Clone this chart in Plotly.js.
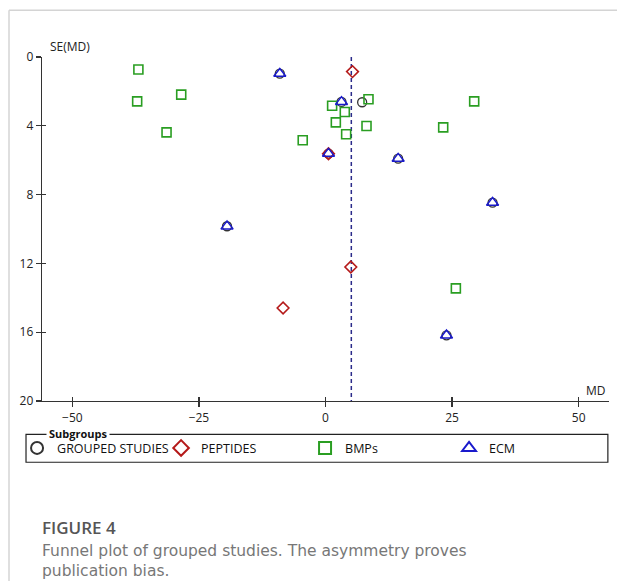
<!DOCTYPE html>
<html>
<head>
<meta charset="utf-8">
<script src="https://cdn.plot.ly/plotly-3.0.1.min.js"></script>
<style>html,body{margin:0;padding:0;background:#fff;}#chart{width:617px;height:581px;}</style>
</head>
<body>
<div id="chart"></div>
<script>
// ---- data ----
const bmpMD = [-36.96, -37.2, -28.5, -31.4, -4.5, 1.31, 3.81, 8.49, 29.37, 2.04, 8.1, 23.25, 4.08, 25.75];
const bmpSE = [0.73, 2.58, 2.19, 4.38, 4.84, 2.83, 3.2, 2.46, 2.58, 3.8, 4.01, 4.09, 4.49, 13.45];
const pepMD = [5.33, 0.59, 5.0, -8.38];
const pepSE = [0.85, 5.62, 12.21, 14.59];
const ecmMD = [-9.03, 3.16, 0.59, 14.35, 33.0, -19.45, 23.9];
const ecmSE = [0.97, 2.61, 5.62, 5.91, 8.47, 9.84, 16.18];
const grpMD = [-9.03, 3.16, 7.24, 0.59, 14.35, 33.0, -19.45, 23.9];
const grpSE = [0.97, 2.61, 2.63, 5.62, 5.91, 8.47, 9.84, 16.18];
const pooledMD = 5.1;
const seRange = [0, 20];
const xTicks = [-50, -25, 0, 25, 50];
const yTicks = [0, 4, 8, 12, 16, 20];
const groupNames = ['GROUPED STUDIES', 'PEPTIDES', 'BMPs', 'ECM'];

const FONT = 'Open Sans, Noto Sans, sans-serif';
const CAPFONT = 'DejaVu Sans, sans-serif';

const traces = [
  {x: [pooledMD, pooledMD], y: seRange, mode: 'lines', showlegend: false, hoverinfo: 'skip',
   line: {color: '#2b2b8a', width: 1.5, dash: '4px,3px'}},
  {x: grpMD, y: grpSE, mode: 'markers', name: groupNames[0],
   marker: {symbol: 'circle-open', size: 9, color: '#333333', line: {width: 1.3}}},
  {x: pepMD, y: pepSE, mode: 'markers', name: groupNames[1],
   marker: {symbol: 'diamond-open', size: 9, color: '#b51a1a', line: {width: 1.6}}},
  {x: bmpMD, y: bmpSE, mode: 'markers', name: groupNames[2],
   marker: {symbol: 'square-open', size: 9, color: '#2a9e22', line: {width: 1.6}}},
  {x: ecmMD, y: ecmSE, mode: 'markers', name: groupNames[3],
   marker: {symbol: 'triangle-up-open', size: 10.5, color: '#1a1acc', line: {width: 1.5}}},
  {x: [0], y: [0], xaxis: 'x2', yaxis: 'y2', mode: 'markers', showlegend: false, hoverinfo: 'skip',
   marker: {opacity: 0}}
];

const axBase = {
  showgrid: false, zeroline: false, showline: true, linecolor: '#333', linewidth: 1.3,
  tickcolor: '#333', tickwidth: 1.3, ticklen: 5,
  tickfont: {family: FONT, size: 12, color: '#222'}
};

const layout = {
  width: 617, height: 581,
  margin: {l: 42, r: 8, t: 57, b: 180},
  paper_bgcolor: '#fff', plot_bgcolor: '#fff',
  font: {family: FONT},
  showlegend: true,
  xaxis: Object.assign({}, axBase, {range: [-56, 56], tickmode: 'array', tickvals: xTicks, ticks: 'outside'}),
  yaxis: Object.assign({}, axBase, {range: [20, 0], tickmode: 'array', tickvals: yTicks, ticks: 'outside'}),
  xaxis2: Object.assign({}, axBase, {range: [-56, 56], tickmode: 'array', tickvals: xTicks, ticks: 'inside',
    showticklabels: false, overlaying: 'x', anchor: 'y', ticklen: 4}),
  yaxis2: Object.assign({}, axBase, {range: [20, 0], tickmode: 'array', tickvals: yTicks, ticks: 'inside',
    showticklabels: false, overlaying: 'y', anchor: 'x', ticklen: 4}),
  legend: {
    orientation: 'h', x: -0.044, xanchor: 'left', y: -0.1375, yanchor: 'middle',
    font: {family: FONT, size: 12.5, color: '#111'},
    itemsizing: 'constant', entrywidth: 99, entrywidthmode: 'pixels',
    bgcolor: 'rgba(0,0,0,0)', borderwidth: 0, itemclick: false
  },
  shapes: [
    // figure frame (light gray)
    {type: 'line', xref: 'paper', yref: 'paper', x0: -0.0582, x1: 1.02, y0: 1.1358, y1: 1.1358,
     line: {color: '#d4d4d4', width: 1.5}},
    {type: 'line', xref: 'paper', yref: 'paper', x0: -0.0582, x1: -0.0582, y0: 1.1358, y1: -0.53,
     line: {color: '#d4d4d4', width: 1.5}},
    // legend box
    {type: 'rect', xref: 'paper', yref: 'paper', x0: -0.0282, x1: 0.998, y0: -0.0968, y1: -0.178,
     line: {color: '#222', width: 1.2}, fillcolor: 'rgba(0,0,0,0)'}
  ],
  annotations: [
    {text: 'SE(MD)', xref: 'paper', yref: 'paper', x: 0.0106, y: 1.0, xanchor: 'left', yanchor: 'bottom',
     showarrow: false, font: {family: FONT, size: 12, color: '#222'}},
    {text: 'MD', xref: 'paper', yref: 'paper', x: 0.998, y: 0.0, xanchor: 'right', yanchor: 'bottom',
     showarrow: false, font: {family: FONT, size: 12, color: '#222'}},
    {text: '<b>Subgroups</b>', xref: 'paper', yref: 'paper', x: 0.007, y: -0.0945, xanchor: 'left', yanchor: 'middle',
     showarrow: false, bgcolor: '#fff', borderpad: 2, font: {family: FONT, size: 11, color: '#111'}},
    {text: 'FIGURE 4', xref: 'paper', yref: 'paper', x: -0.0035, y: -0.367, xanchor: 'left', yanchor: 'middle',
     showarrow: false, font: {family: FONT, size: 17, color: '#555', weight: 600}},
    {text: 'Funnel plot of grouped studies. The asymmetry proves', xref: 'paper', yref: 'paper',
     x: -0.0035, y: -0.435, xanchor: 'left', yanchor: 'middle',
     showarrow: false, font: {family: CAPFONT, size: 15.5, color: '#777'}},
    {text: 'publication bias.', xref: 'paper', yref: 'paper',
     x: -0.0035, y: -0.4955, xanchor: 'left', yanchor: 'middle',
     showarrow: false, font: {family: CAPFONT, size: 15.5, color: '#777'}}
  ]
};

Plotly.newPlot('chart', traces, layout, {displayModeBar: false, staticPlot: true});
</script>
</body>
</html>
